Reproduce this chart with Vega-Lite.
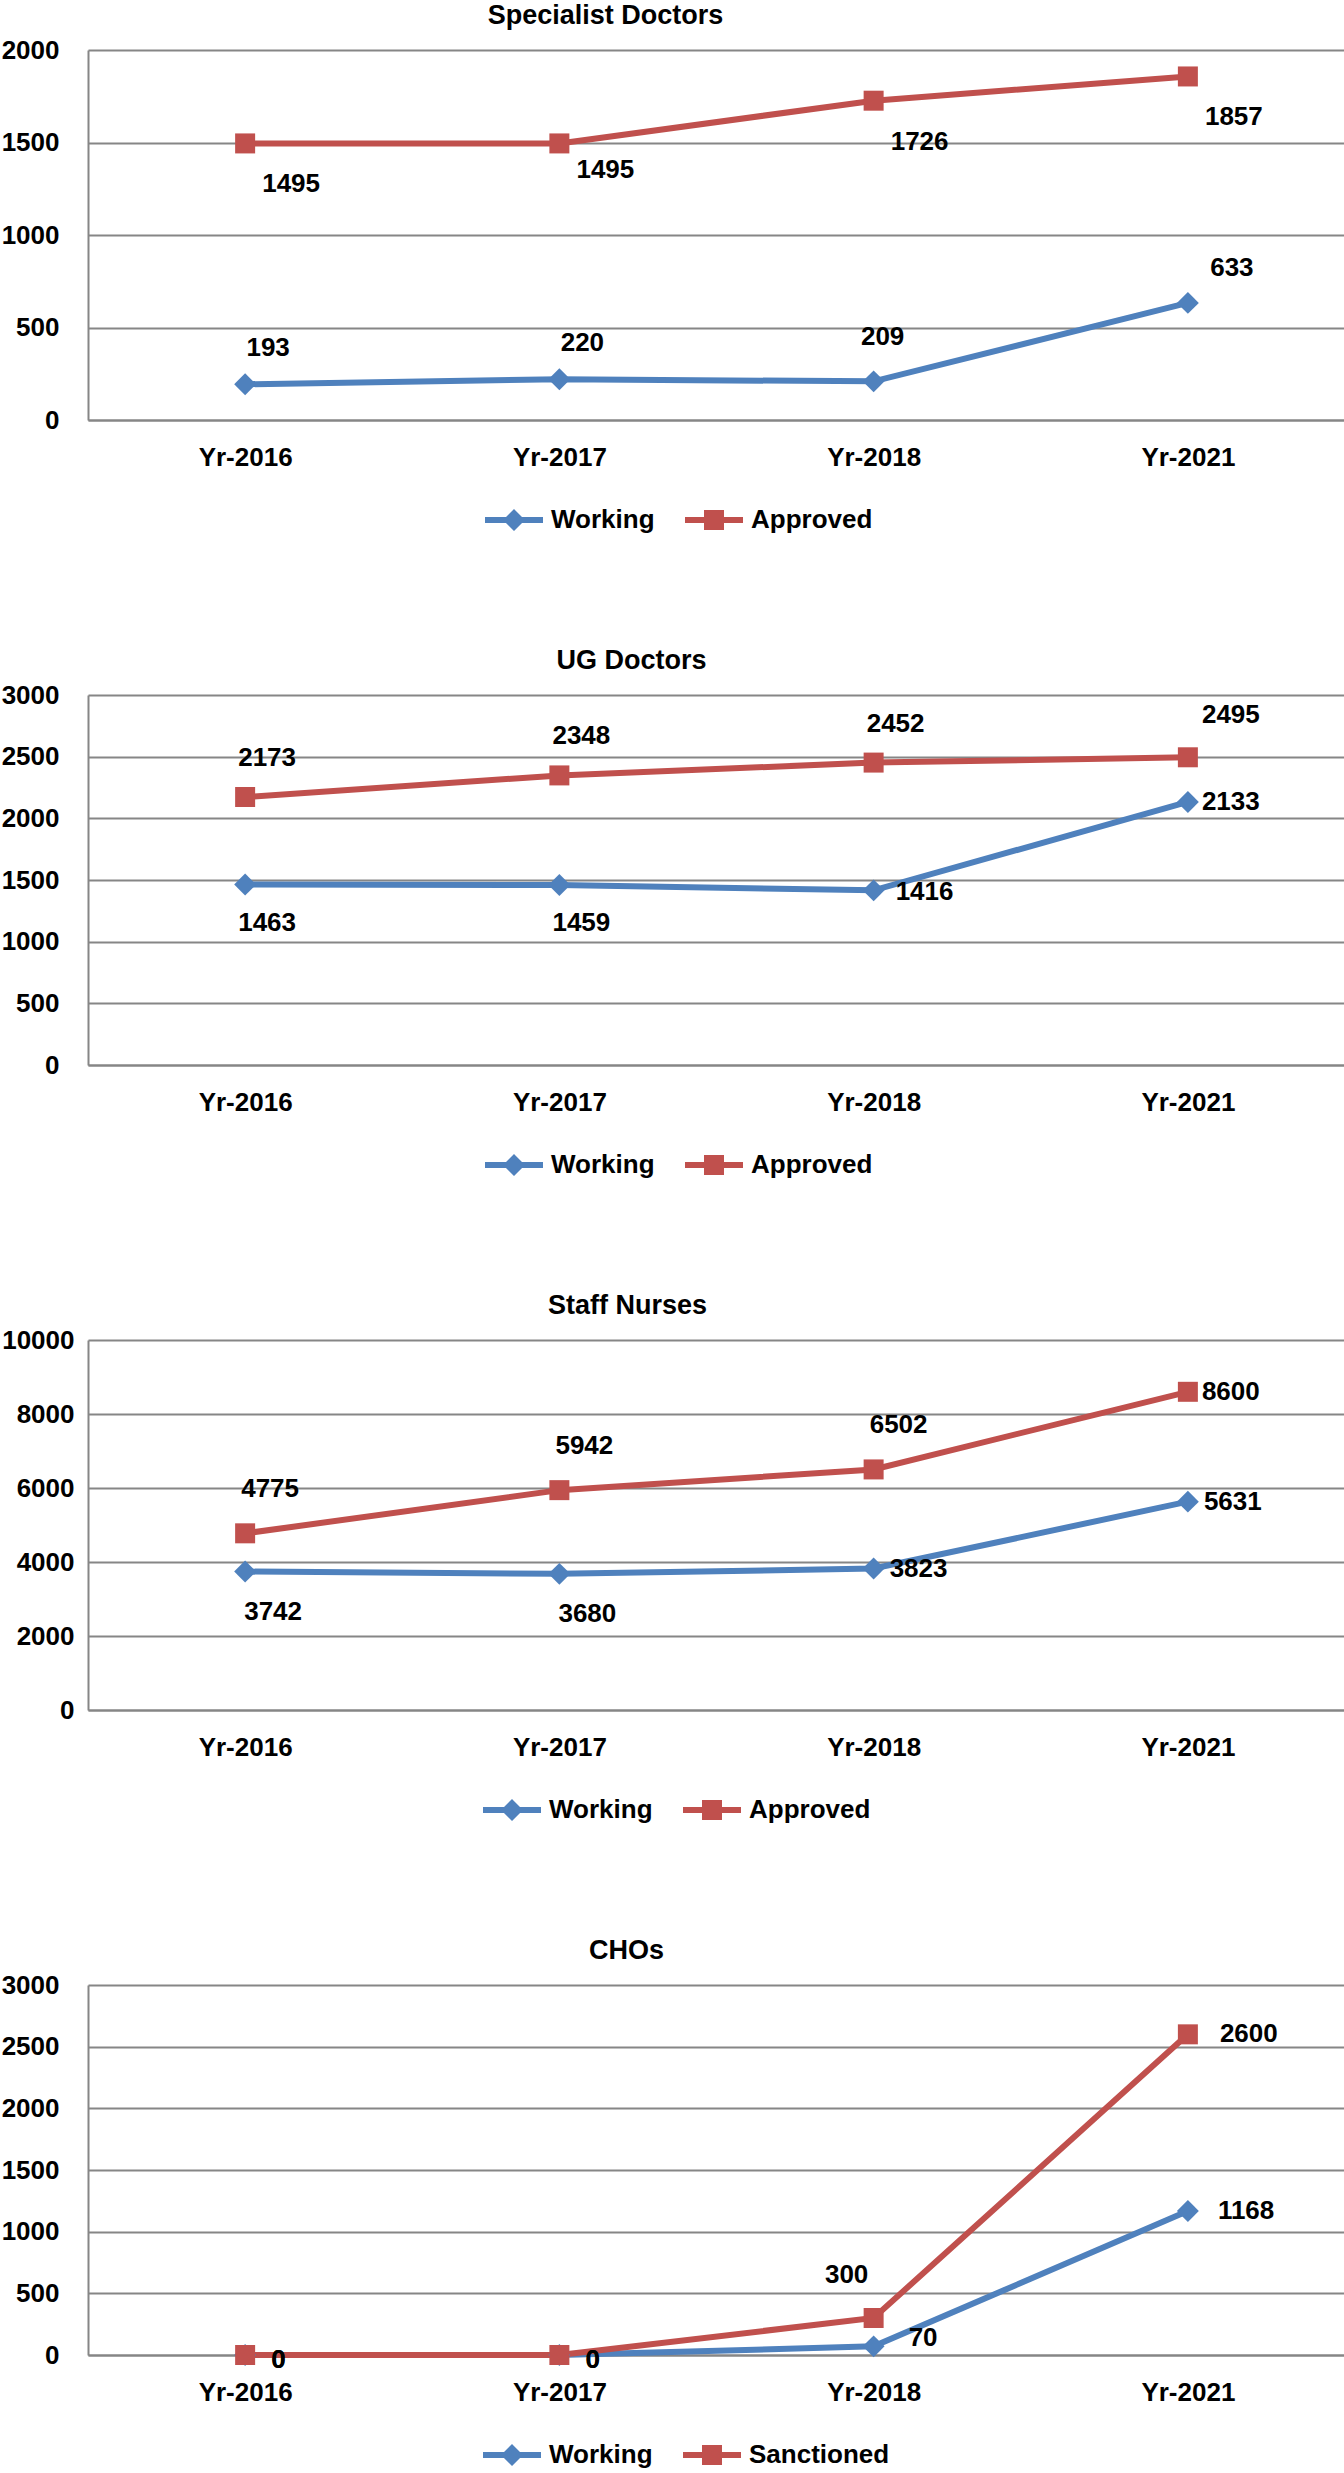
{
  "$schema": "https://vega.github.io/schema/vega-lite/v6.json",
  "background": "white",
  "padding": {"left": 1, "top": 2, "right": 0, "bottom": 0},
  "datasets": {
    "d": [
      {"panel": "Specialist Doctors", "year": "Yr-2016", "series": "Working", "value": 193},
      {"panel": "Specialist Doctors", "year": "Yr-2017", "series": "Working", "value": 220},
      {"panel": "Specialist Doctors", "year": "Yr-2018", "series": "Working", "value": 209},
      {"panel": "Specialist Doctors", "year": "Yr-2021", "series": "Working", "value": 633},
      {"panel": "Specialist Doctors", "year": "Yr-2016", "series": "Approved", "value": 1495},
      {"panel": "Specialist Doctors", "year": "Yr-2017", "series": "Approved", "value": 1495},
      {"panel": "Specialist Doctors", "year": "Yr-2018", "series": "Approved", "value": 1726},
      {"panel": "Specialist Doctors", "year": "Yr-2021", "series": "Approved", "value": 1857},
      {"panel": "UG Doctors", "year": "Yr-2016", "series": "Working", "value": 1463},
      {"panel": "UG Doctors", "year": "Yr-2017", "series": "Working", "value": 1459},
      {"panel": "UG Doctors", "year": "Yr-2018", "series": "Working", "value": 1416},
      {"panel": "UG Doctors", "year": "Yr-2021", "series": "Working", "value": 2133},
      {"panel": "UG Doctors", "year": "Yr-2016", "series": "Approved", "value": 2173},
      {"panel": "UG Doctors", "year": "Yr-2017", "series": "Approved", "value": 2348},
      {"panel": "UG Doctors", "year": "Yr-2018", "series": "Approved", "value": 2452},
      {"panel": "UG Doctors", "year": "Yr-2021", "series": "Approved", "value": 2495},
      {"panel": "Staff Nurses", "year": "Yr-2016", "series": "Working", "value": 3742},
      {"panel": "Staff Nurses", "year": "Yr-2017", "series": "Working", "value": 3680},
      {"panel": "Staff Nurses", "year": "Yr-2018", "series": "Working", "value": 3823},
      {"panel": "Staff Nurses", "year": "Yr-2021", "series": "Working", "value": 5631},
      {"panel": "Staff Nurses", "year": "Yr-2016", "series": "Approved", "value": 4775},
      {"panel": "Staff Nurses", "year": "Yr-2017", "series": "Approved", "value": 5942},
      {"panel": "Staff Nurses", "year": "Yr-2018", "series": "Approved", "value": 6502},
      {"panel": "Staff Nurses", "year": "Yr-2021", "series": "Approved", "value": 8600},
      {"panel": "CHOs", "year": "Yr-2016", "series": "Working", "value": 0},
      {"panel": "CHOs", "year": "Yr-2017", "series": "Working", "value": 0},
      {"panel": "CHOs", "year": "Yr-2018", "series": "Working", "value": 70},
      {"panel": "CHOs", "year": "Yr-2021", "series": "Working", "value": 1168},
      {"panel": "CHOs", "year": "Yr-2016", "series": "Sanctioned", "value": 0},
      {"panel": "CHOs", "year": "Yr-2017", "series": "Sanctioned", "value": 0},
      {"panel": "CHOs", "year": "Yr-2018", "series": "Sanctioned", "value": 300},
      {"panel": "CHOs", "year": "Yr-2021", "series": "Sanctioned", "value": 2600}
    ]
  },
  "config": {
    "font": "Liberation Sans",
    "view": {"stroke": null},
    "axis": {
      "labelFont": "Liberation Sans", "labelFontSize": 26, "labelFontWeight": "bold", "labelColor": "#000000",
      "domainColor": "#868686", "domainWidth": 2, "gridColor": "#868686", "gridWidth": 2, "gridOpacity": 1,
      "ticks": false, "title": null
    },
    "title": {"font": "Liberation Sans", "fontSize": 27, "fontWeight": "bold", "color": "#000000", "anchor": "middle", "frame": "group", "offset": 7},
    "text": {"font": "Liberation Sans", "fontSize": 26, "fontWeight": "bold", "color": "#000000", "baseline": "middle"},
    "legend": {"labelFont": "Liberation Sans", "labelFontSize": 26, "labelFontWeight": "bold", "labelColor": "#000000", "labelLimit": 300,
      "orient": "none", "direction": "horizontal", "title": null, "symbolSize": 400, "labelOffset": 24, "columnPadding": 30, "symbolOpacity": 1, "symbolStrokeWidth": 0}
  },
  "concat": [
    {
      "width": 1257, "height": 370,
      "title": {"text": "Specialist Doctors", "dx": -111},
      "data": {"name": "d"},
      "transform": [{"filter": "datum.panel === 'Specialist Doctors'"}],
      "encoding": {
        "x": {"field": "year", "type": "ordinal", "sort": null, "scale": {"type": "point", "padding": 0.5}, "axis": {"labelAngle": 0, "labelPadding": 24, "grid": false}},
        "y": {"field": "value", "type": "quantitative", "scale": {"domain": [0, 2000], "nice": false}, "axis": {"values": [0, 500, 1000, 1500, 2000], "grid": true, "labelPadding": 29, "format": "d"}},
        "color": {"field": "series", "type": "nominal", "scale": {"domain": ["Working", "Approved"], "range": ["#4F81BD", "#C0504D"]},
          "legend": {"orient": "none", "direction": "horizontal", "legendX": 413, "legendY": 457, "title": null}}
      },
      "layer": [
        {"mark": {"type": "line", "strokeWidth": 6}},
        {"mark": {"type": "point", "filled": true, "opacity": 0},
         "encoding": {"shape": {"field": "series", "type": "nominal", "scale": {"domain": ["Working", "Approved"], "range": ["M-2.9,-0.3H2.9V0.3H-2.9Z M0,-1.1L1.1,0L0,1.1L-1.1,0Z", "M-2.9,-0.3H2.9V0.3H-2.9Z M-1,-1H1V1H-1Z"]}}}},
        {"transform": [{"filter": "datum.series === 'Working'"}], "mark": {"type": "point", "filled": true, "opacity": 1, "shape": "diamond", "size": 480}},
        {"transform": [{"filter": "datum.series === 'Approved'"}], "mark": {"type": "point", "filled": true, "opacity": 1, "shape": "square", "size": 400}},
        {"transform": [{"filter": "datum.series === 'Approved' && datum.year !== 'Yr-2017'"}],
         "mark": {"type": "text", "dx": 46, "dy": 41, "align": "center"},
         "encoding": {"text": {"field": "value", "type": "quantitative", "format": "d"}, "color": {"value": "#000000"}}},
        {"transform": [{"filter": "datum.series === 'Approved' && datum.year === 'Yr-2017'"}],
         "mark": {"type": "text", "dx": 46, "dy": 27, "align": "center"},
         "encoding": {"text": {"field": "value", "type": "quantitative", "format": "d"}, "color": {"value": "#000000"}}},
        {"transform": [{"filter": "datum.series === 'Working' && (datum.year === 'Yr-2016' || datum.year === 'Yr-2017')"}],
         "mark": {"type": "text", "dx": 23, "dy": -36, "align": "center"},
         "encoding": {"text": {"field": "value", "type": "quantitative", "format": "d"}, "color": {"value": "#000000"}}},
        {"transform": [{"filter": "datum.series === 'Working' && datum.year === 'Yr-2018'"}],
         "mark": {"type": "text", "dx": 9, "dy": -44, "align": "center"},
         "encoding": {"text": {"field": "value", "type": "quantitative", "format": "d"}, "color": {"value": "#000000"}}},
        {"transform": [{"filter": "datum.series === 'Working' && datum.year === 'Yr-2021'"}],
         "mark": {"type": "text", "dx": 44, "dy": -35, "align": "center"},
         "encoding": {"text": {"field": "value", "type": "quantitative", "format": "d"}, "color": {"value": "#000000"}}}
      ]
    },
    {
      "width": 1257, "height": 370,
      "title": {"text": "UG Doctors", "dx": -85},
      "data": {"name": "d"},
      "transform": [{"filter": "datum.panel === 'UG Doctors'"}],
      "encoding": {
        "x": {"field": "year", "type": "ordinal", "sort": null, "scale": {"type": "point", "padding": 0.5}, "axis": {"labelAngle": 0, "labelPadding": 24, "grid": false}},
        "y": {"field": "value", "type": "quantitative", "scale": {"domain": [0, 3000], "nice": false}, "axis": {"values": [0, 500, 1000, 1500, 2000, 2500, 3000], "grid": true, "labelPadding": 29, "format": "d"}},
        "color": {"field": "series", "type": "nominal", "scale": {"domain": ["Working", "Approved"], "range": ["#4F81BD", "#C0504D"]},
          "legend": {"orient": "none", "direction": "horizontal", "legendX": 413, "legendY": 457, "title": null}}
      },
      "layer": [
        {"mark": {"type": "line", "strokeWidth": 6}},
        {"mark": {"type": "point", "filled": true, "opacity": 0},
         "encoding": {"shape": {"field": "series", "type": "nominal", "scale": {"domain": ["Working", "Approved"], "range": ["M-2.9,-0.3H2.9V0.3H-2.9Z M0,-1.1L1.1,0L0,1.1L-1.1,0Z", "M-2.9,-0.3H2.9V0.3H-2.9Z M-1,-1H1V1H-1Z"]}}}},
        {"transform": [{"filter": "datum.series === 'Working'"}], "mark": {"type": "point", "filled": true, "opacity": 1, "shape": "diamond", "size": 480}},
        {"transform": [{"filter": "datum.series === 'Approved'"}], "mark": {"type": "point", "filled": true, "opacity": 1, "shape": "square", "size": 400}},
        {"transform": [{"filter": "datum.series === 'Approved' && datum.year !== 'Yr-2021'"}],
         "mark": {"type": "text", "dx": 22, "dy": -39, "align": "center"},
         "encoding": {"text": {"field": "value", "type": "quantitative", "format": "d"}, "color": {"value": "#000000"}}},
        {"transform": [{"filter": "datum.series === 'Approved' && datum.year === 'Yr-2021'"}],
         "mark": {"type": "text", "dx": 43, "dy": -42, "align": "center"},
         "encoding": {"text": {"field": "value", "type": "quantitative", "format": "d"}, "color": {"value": "#000000"}}},
        {"transform": [{"filter": "datum.series === 'Working' && (datum.year === 'Yr-2016' || datum.year === 'Yr-2017')"}],
         "mark": {"type": "text", "dx": 22, "dy": 38, "align": "center"},
         "encoding": {"text": {"field": "value", "type": "quantitative", "format": "d"}, "color": {"value": "#000000"}}},
        {"transform": [{"filter": "datum.series === 'Working' && datum.year === 'Yr-2018'"}],
         "mark": {"type": "text", "dx": 22, "dy": 2, "align": "left"},
         "encoding": {"text": {"field": "value", "type": "quantitative", "format": "d"}, "color": {"value": "#000000"}}},
        {"transform": [{"filter": "datum.series === 'Working' && datum.year === 'Yr-2021'"}],
         "mark": {"type": "text", "dx": 14, "dy": 0, "align": "left"},
         "encoding": {"text": {"field": "value", "type": "quantitative", "format": "d"}, "color": {"value": "#000000"}}}
      ]
    },
    {
      "width": 1257, "height": 370,
      "title": {"text": "Staff Nurses", "dx": -89},
      "data": {"name": "d"},
      "transform": [{"filter": "datum.panel === 'Staff Nurses'"}],
      "encoding": {
        "x": {"field": "year", "type": "ordinal", "sort": null, "scale": {"type": "point", "padding": 0.5}, "axis": {"labelAngle": 0, "labelPadding": 24, "grid": false}},
        "y": {"field": "value", "type": "quantitative", "scale": {"domain": [0, 10000], "nice": false}, "axis": {"values": [0, 2000, 4000, 6000, 8000, 10000], "grid": true, "labelPadding": 14, "format": "d"}},
        "color": {"field": "series", "type": "nominal", "scale": {"domain": ["Working", "Approved"], "range": ["#4F81BD", "#C0504D"]},
          "legend": {"orient": "none", "direction": "horizontal", "legendX": 411, "legendY": 457, "title": null}}
      },
      "layer": [
        {"mark": {"type": "line", "strokeWidth": 6}},
        {"mark": {"type": "point", "filled": true, "opacity": 0},
         "encoding": {"shape": {"field": "series", "type": "nominal", "scale": {"domain": ["Working", "Approved"], "range": ["M-2.9,-0.3H2.9V0.3H-2.9Z M0,-1.1L1.1,0L0,1.1L-1.1,0Z", "M-2.9,-0.3H2.9V0.3H-2.9Z M-1,-1H1V1H-1Z"]}}}},
        {"transform": [{"filter": "datum.series === 'Working'"}], "mark": {"type": "point", "filled": true, "opacity": 1, "shape": "diamond", "size": 480}},
        {"transform": [{"filter": "datum.series === 'Approved'"}], "mark": {"type": "point", "filled": true, "opacity": 1, "shape": "square", "size": 400}},
        {"transform": [{"filter": "datum.series === 'Approved' && datum.year !== 'Yr-2021'"}],
         "mark": {"type": "text", "dx": 25, "dy": -44, "align": "center"},
         "encoding": {"text": {"field": "value", "type": "quantitative", "format": "d"}, "color": {"value": "#000000"}}},
        {"transform": [{"filter": "datum.series === 'Approved' && datum.year === 'Yr-2021'"}],
         "mark": {"type": "text", "dx": 14, "dy": 0, "align": "left"},
         "encoding": {"text": {"field": "value", "type": "quantitative", "format": "d"}, "color": {"value": "#000000"}}},
        {"transform": [{"filter": "datum.series === 'Working' && (datum.year === 'Yr-2016' || datum.year === 'Yr-2017')"}],
         "mark": {"type": "text", "dx": 28, "dy": 40, "align": "center"},
         "encoding": {"text": {"field": "value", "type": "quantitative", "format": "d"}, "color": {"value": "#000000"}}},
        {"transform": [{"filter": "datum.series === 'Working' && (datum.year === 'Yr-2018' || datum.year === 'Yr-2021')"}],
         "mark": {"type": "text", "dx": 16, "dy": 0, "align": "left"},
         "encoding": {"text": {"field": "value", "type": "quantitative", "format": "d"}, "color": {"value": "#000000"}}}
      ]
    },
    {
      "width": 1257, "height": 370,
      "title": {"text": "CHOs", "dx": -90},
      "data": {"name": "d"},
      "transform": [{"filter": "datum.panel === 'CHOs'"}],
      "encoding": {
        "x": {"field": "year", "type": "ordinal", "sort": null, "scale": {"type": "point", "padding": 0.5}, "axis": {"labelAngle": 0, "labelPadding": 24, "grid": false}},
        "y": {"field": "value", "type": "quantitative", "scale": {"domain": [0, 3000], "nice": false}, "axis": {"values": [0, 500, 1000, 1500, 2000, 2500, 3000], "grid": true, "labelPadding": 29, "format": "d"}},
        "color": {"field": "series", "type": "nominal", "scale": {"domain": ["Working", "Sanctioned"], "range": ["#4F81BD", "#C0504D"]},
          "legend": {"orient": "none", "direction": "horizontal", "legendX": 411, "legendY": 457, "title": null}}
      },
      "layer": [
        {"mark": {"type": "line", "strokeWidth": 6}},
        {"mark": {"type": "point", "filled": true, "opacity": 0},
         "encoding": {"shape": {"field": "series", "type": "nominal", "scale": {"domain": ["Working", "Sanctioned"], "range": ["M-2.9,-0.3H2.9V0.3H-2.9Z M0,-1.1L1.1,0L0,1.1L-1.1,0Z", "M-2.9,-0.3H2.9V0.3H-2.9Z M-1,-1H1V1H-1Z"]}}}},
        {"transform": [{"filter": "datum.series === 'Working'"}], "mark": {"type": "point", "filled": true, "opacity": 1, "shape": "diamond", "size": 480}},
        {"transform": [{"filter": "datum.series === 'Sanctioned'"}], "mark": {"type": "point", "filled": true, "opacity": 1, "shape": "square", "size": 400}},
        {"transform": [{"filter": "datum.year === 'Yr-2016' || datum.year === 'Yr-2017'"}],
         "mark": {"type": "text", "dx": 26, "dy": 5, "align": "left"},
         "encoding": {"text": {"field": "value", "type": "quantitative", "format": "d"}, "color": {"value": "#000000"}}},
        {"transform": [{"filter": "datum.series === 'Sanctioned' && datum.year === 'Yr-2018'"}],
         "mark": {"type": "text", "dx": -27, "dy": -43, "align": "center"},
         "encoding": {"text": {"field": "value", "type": "quantitative", "format": "d"}, "color": {"value": "#000000"}}},
        {"transform": [{"filter": "datum.series === 'Sanctioned' && datum.year === 'Yr-2021'"}],
         "mark": {"type": "text", "dx": 32, "dy": 0, "align": "left"},
         "encoding": {"text": {"field": "value", "type": "quantitative", "format": "d"}, "color": {"value": "#000000"}}},
        {"transform": [{"filter": "datum.series === 'Working' && datum.year === 'Yr-2018'"}],
         "mark": {"type": "text", "dx": 35, "dy": -8, "align": "left"},
         "encoding": {"text": {"field": "value", "type": "quantitative", "format": "d"}, "color": {"value": "#000000"}}},
        {"transform": [{"filter": "datum.series === 'Working' && datum.year === 'Yr-2021'"}],
         "mark": {"type": "text", "dx": 30, "dy": 0, "align": "left"},
         "encoding": {"text": {"field": "value", "type": "quantitative", "format": "d"}, "color": {"value": "#000000"}}}
      ]
    }
  ],
  "columns": 1,
  "spacing": 114,
  "resolve": {"scale": {"color": "independent", "shape": "independent", "x": "independent", "y": "independent"}, "legend": {"color": "independent", "shape": "independent"}}
}
